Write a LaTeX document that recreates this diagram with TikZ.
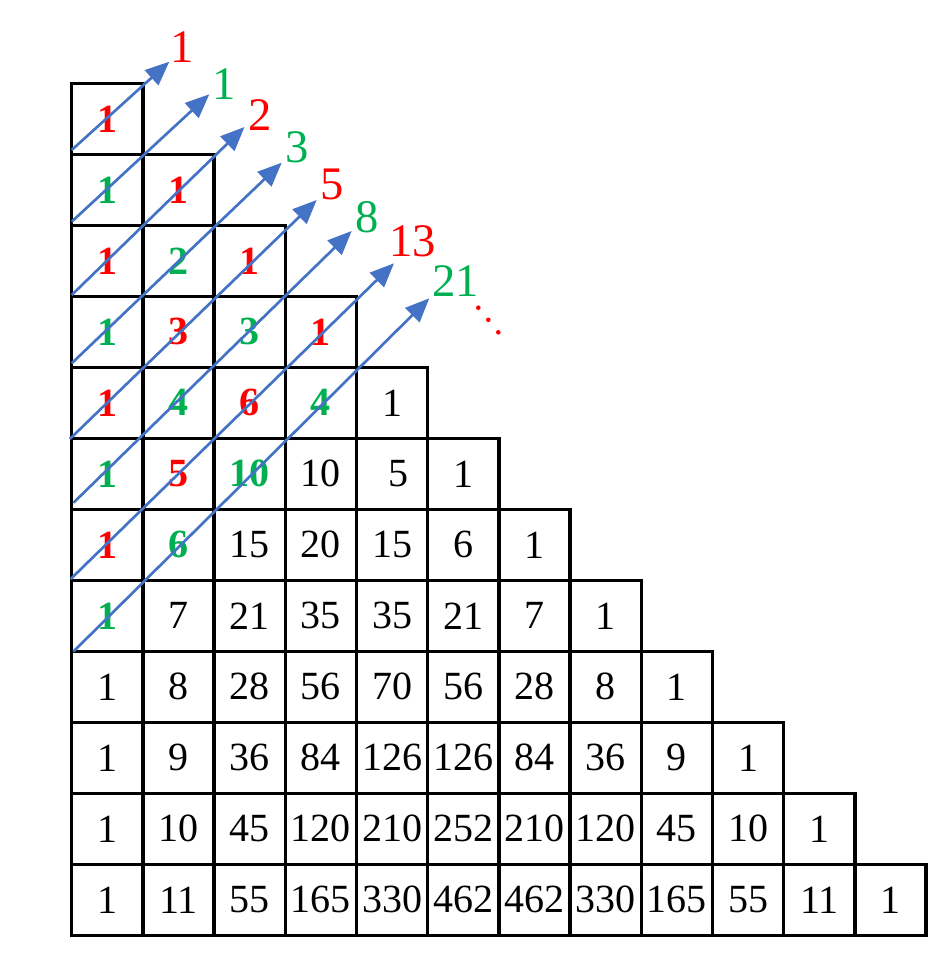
\documentclass[tikz,border=0pt]{standalone}
\usepackage{fontspec}
\setmainfont{Liberation Serif}
\usetikzlibrary{arrows.meta}
\definecolor{fibred}{HTML}{FF0000}
\definecolor{fibgreen}{HTML}{00B050}
\definecolor{arrowblue}{HTML}{4472C4}
\begin{document}
\begin{tikzpicture}[x=0.75pt,y=-0.75pt,
  cellbox/.style={draw=black,line width=2.5pt,minimum width=53.4pt,minimum height=53.25pt,inner sep=0pt,anchor=center,font=\fontsize{30}{34}\selectfont},
  fiblabel/.style={inner sep=0pt,anchor=center,font=\fontsize{35}{40}\selectfont},
  diagarrow/.style={draw=arrowblue,line width=2pt,-{Triangle[length=18pt,width=15pt]}}]
\useasboundingbox (0,0) rectangle (951,955);
% grid of cells
\foreach \rowlist [count=\ri from 0] in {
  {1},
  {1,1},
  {1,2,1},
  {1,3,3,1},
  {1,4,6,4,1},
  {1,5,10,10,{\hspace{9pt}5},1},
  {1,6,15,20,15,6,1},
  {1,7,21,35,35,21,7,1},
  {1,8,28,56,70,56,28,8,1},
  {1,9,36,84,126,126,84,36,9,1},
  {1,10,45,120,210,252,210,120,45,10,1},
  {1,11,55,165,330,462,462,330,165,55,11,1}} {
  \foreach \val [count=\ci from 0] in \rowlist {
    \pgfmathtruncatemacro{\dg}{\ri+\ci}
    \ifnum\dg<8
      \ifodd\dg \def\tcol{fibgreen}\else \def\tcol{fibred}\fi
      \def\tser{\bfseries}
    \else
      \def\tcol{black}\def\tser{}
    \fi
    \node[cellbox,text=\tcol] (cell-\ri-\ci) at ({71.7+71.2*\ci+35.6},{83.3+71*\ri+35.5}) {\tser\val};
  }
}
% arrow ends
\coordinate (s0) at (71.7,150);   \coordinate (t0) at (169.3,61.7);
\coordinate (s1) at (71.7,221.7); \coordinate (t1) at (209.3,94.3);
\coordinate (s2) at (71.7,295);   \coordinate (t2) at (244.5,127);
\coordinate (s3) at (71.7,363.3); \coordinate (t3) at (281.7,162.7);
\coordinate (s4) at (69.8,439);   \coordinate (t4) at (316.7,200);
\coordinate (s5) at (73.5,502.7); \coordinate (t5) at (351.7,231);
\coordinate (s6) at (70.7,579);   \coordinate (t6) at (394,263.3);
\coordinate (s7) at (73.3,651.7); \coordinate (t7) at (429.3,298.3);
\foreach \k in {0,...,7} { \draw[diagarrow] (s\k) -- (t\k); }
% Fibonacci labels
\node[fiblabel,text=fibred]   (fib0) at (182.5,47)   {1};
\node[fiblabel,text=fibgreen] (fib1) at (224,84)     {1};
\node[fiblabel,text=fibred]   (fib2) at (260,115.5)  {2};
\node[fiblabel,text=fibgreen] (fib3) at (297.5,147)  {3};
\node[fiblabel,text=fibred]   (fib4) at (331.7,184)  {5};
\node[fiblabel,text=fibgreen] (fib5) at (367,217)    {8};
\node[fiblabel,text=fibred]   (fib6) at (412.5,241)  {13};
\node[fiblabel,text=fibgreen] (fib7) at (455.5,281)  {21};
% continuation dots
\fill[fibred] (478.3,307.7) circle (2.3);
\fill[fibred] (488.3,319.8) circle (2.3);
\fill[fibred] (498.3,332.3) circle (2.3);
\end{tikzpicture}
\end{document}
